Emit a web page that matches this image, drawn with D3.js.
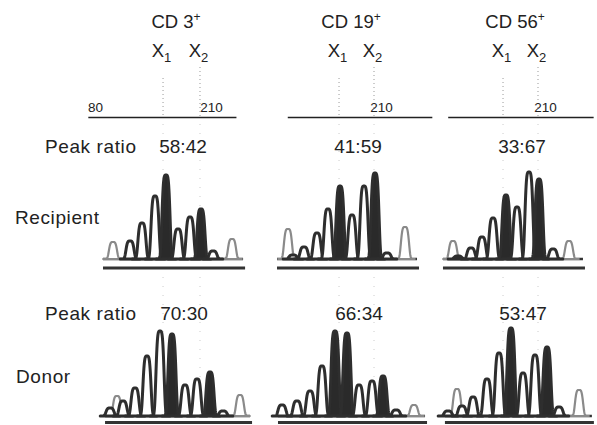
<!DOCTYPE html>
<html>
<head>
<meta charset="utf-8">
<script src="https://cdn.jsdelivr.net/npm/d3@7"></script>
<style>
  body { margin: 0; background: #fff; }
  text { font-family: "Liberation Sans", Arial, sans-serif; fill: #222; }
</style>
</head>
<body>
<script>
// markers (columns) and rows
var markers = ["CD 3", "CD 19", "CD 56"];
var rowNames = ["Recipient", "Donor"];
var recipientRatios = ["58:42", "41:59", "33:67"];
var donorRatios = ["70:30", "66:34", "53:47"];

// size scale ticks shown on top of each column (bp)
var tickLabels = [[80, 210], [210], [210]];
var axisExtent = [[72, 238], [105, 267], [101, 264]];

// allele positions X1 / X2 (bp)
var alleleX1 = [156.3, 163, 163];
var alleleX2 = [197.7, 202.2, 202.2];

// peaks: [size (bp), height (rfu %), kind]  a = allele, o = other, std = size standard
var recCD3 = [[100.2,17,"std"],[119.3,18,"o"],[132.7,36,"o"],[147.3,63,"o"],[159.6,84,"a"],
  [173.1,30,"o"],[186.5,42,"o"],[198.8,50,"a"],[212.3,8,"o"],[233.6,20,"std"]];
var recCD19 = [[105.8,30,"std"],[111.4,4,"o"],[123.7,12,"o"],[138.3,26,"o"],[150.6,50,"o"],
  [164.1,73,"a"],[177.5,44,"o"],[191.0,73,"o"],[203.3,86,"a"],[216.8,6,"o"],[236.9,32,"std"]];
var recCD56 = [[106.9,18,"std"],[112.5,3,"o"],[127.1,11,"o"],[139.4,22,"o"],[151.8,41,"o"],
  [166.3,64,"a"],[178.7,52,"o"],[192.1,87,"o"],[203.3,80,"a"],[219.0,10,"o"],[236.9,18,"std"]];
var donCD3 = [[96.9,8,"o"],[104.7,20,"std"],[111.4,15,"o"],[124.9,28,"o"],[138.3,60,"o"],
  [152.9,85,"o"],[166.3,82,"a"],[180.9,31,"o"],[194.4,37,"o"],[208.9,44,"a"],[223.5,5,"o"],[242.5,21,"std"]];
var donCD19 = [[99.1,11,"o"],[115.9,15,"o"],[130.5,25,"o"],[143.9,50,"o"],[158.5,85,"a"],
  [171.9,83,"a"],[185.4,31,"o"],[200.0,35,"o"],[212.3,40,"a"],[226.9,6,"o"],[247.0,11,"std"]];
var donCD56 = [[101.3,5,"o"],[111.4,27,"std"],[117.0,10,"o"],[129.4,19,"o"],[145.0,37,"o"],
  [158.5,63,"o"],[171.9,88,"a"],[185.4,43,"o"],[198.8,61,"o"],[212.3,69,"a"],[225.7,9,"o"],[248.2,26,"std"]];

var recipientPeaks = [recCD3, recCD19, recCD56];
var donorPeaks = [donCD3, donCD19, donCD56];
var recipientRange = [[89, 246], [93.5, 250.4], [95.7, 252.6]];
var donorRange = [[91.3, 253.8], [94.6, 259.4], [97.9, 262.6]];

var w = 597, h = 425;
var svg = d3.select("body").append("svg")
  .attr("width", w).attr("height", h);

var colX0 = [90.5, 260.5, 424.5];
var pxPerBp = 0.8923;
var xScales = colX0.map(function(x0) {
  return d3.scaleLinear().domain([75, 265]).range([x0, x0 + 190 * pxPerBp]);
});
var y = d3.scaleLinear().domain([0, 100]).range([0, -100]);

var peakW = 5.0;
function peakShape(d) {
  var pts = [];
  for (var s = d[0] - 2.2 * peakW; s <= d[0] + 2.2 * peakW; s += 0.25) {
    var t = (s - d[0]) / peakW;
    pts.push([s, d[1] * Math.exp(-Math.pow(t, 4))]);
  }
  return pts;
}

// dotted allele guides
xScales.forEach(function(x, c) {
  [alleleX1[c], alleleX2[c]].forEach(function(a, i) {
    svg.append("line")
      .attr("x1", x(a)).attr("x2", x(a))
      .attr("y1", i == 0 ? 78 : 67).attr("y2", 118)
      .attr("stroke", "#999").attr("stroke-width", 1)
      .attr("stroke-dasharray", "1,3");
    svg.append("line")
      .attr("x1", x(a)).attr("x2", x(a))
      .attr("y1", 124).attr("y2", 425)
      .attr("stroke", "#ccc").attr("stroke-width", 1)
      .attr("stroke-dasharray", "1,8");
  });
});

// headers
xScales.forEach(function(x, c) {
  var mid = (x(alleleX1[c]) + x(alleleX2[c])) / 2;
  var t = svg.append("text").attr("x", mid - 5.5).attr("y", 28)
    .attr("text-anchor", "middle").style("font-size", "18.5px");
  t.append("tspan").text(markers[c]);
  t.append("tspan").attr("dy", -7).style("font-size", "12px").text("+");

  [alleleX1[c], alleleX2[c]].forEach(function(a, i) {
    var lab = svg.append("text").attr("x", x(a) - 1.5).attr("y", 57)
      .attr("text-anchor", "middle").style("font-size", "18.5px");
    lab.append("tspan").text("X");
    lab.append("tspan").attr("dy", 5).style("font-size", "13px").text(i + 1);
  });

  // size axis
  var ax = d3.scaleLinear().domain(axisExtent[c]).range(axisExtent[c].map(x));
  var g = svg.append("g").attr("transform", "translate(0,117)")
    .call(d3.axisTop(ax).tickValues(tickLabels[c]).tickSize(0).tickSizeOuter(0).tickPadding(5));
  g.select(".domain").attr("stroke", "#222").attr("stroke-width", 1.6);
  g.selectAll("text").style("font-size", "13.5px")
    .style("font-family", "'Liberation Sans', Arial, sans-serif").attr("fill", "#222");

  // peak ratios
  svg.append("text").attr("x", mid + 1.5).attr("y", 153)
    .attr("text-anchor", "middle").style("font-size", "19px").text(recipientRatios[c]);
  svg.append("text").attr("x", mid + 2.5).attr("y", 320)
    .attr("text-anchor", "middle").style("font-size", "19px").text(donorRatios[c]);
});

svg.append("text").attr("x", 45).attr("y", 153).style("font-size", "19px")
  .attr("letter-spacing", "0.6").text("Peak ratio");
svg.append("text").attr("x", 45).attr("y", 320).style("font-size", "19px")
  .attr("letter-spacing", "0.6").text("Peak ratio");
svg.append("text").attr("x", 15).attr("y", 224).style("font-size", "19px")
  .attr("letter-spacing", "0.6").text(rowNames[0]);
svg.append("text").attr("x", 16).attr("y", 383).style("font-size", "19px")
  .attr("letter-spacing", "0.6").text(rowNames[1]);

// electropherograms
function drawTrace(peaks, range, x, baseY, underY) {
  var g = svg.append("g").attr("transform", "translate(0," + baseY + ")");
  g.append("line")
    .attr("x1", x(range[0])).attr("x2", x(range[1]))
    .attr("y1", 0).attr("y2", 0)
    .attr("stroke", "#333").attr("stroke-width", 2.6);

  var area = d3.area()
    .x(function(p) { return x(p[0]); })
    .y0(0)
    .y1(function(p) { return y(p[1]); });

  var order = peaks.slice().sort(function(a, b) {
    return (a[2] == "std" ? 0 : 1) - (b[2] == "std" ? 0 : 1);
  });
  g.selectAll("path.peak")
    .data(order)
    .enter()
    .append("path")
    .attr("class", "peak")
    .attr("d", function(d) { return area(peakShape(d)); })
    .attr("fill", function(d) { return d[2] == "a" ? "#2a2a2a" : "#fff"; })
    .attr("stroke", function(d) { return d[2] == "std" ? "#8a8a8a" : "#2e2e2e"; })
    .attr("stroke-width", function(d) { return d[2] == "std" ? 2.2 : 3; })
    .attr("stroke-linejoin", "round");

  svg.append("line")
    .attr("x1", x(range[0])).attr("x2", x(range[1]) + 2)
    .attr("y1", underY).attr("y2", underY)
    .attr("stroke", "#333").attr("stroke-width", 2.8);
}

xScales.forEach(function(x, c) {
  drawTrace(recipientPeaks[c], recipientRange[c], x, 259, 268);
  drawTrace(donorPeaks[c], donorRange[c], x, 416, 422.5);
});
</script>
</body>
</html>
